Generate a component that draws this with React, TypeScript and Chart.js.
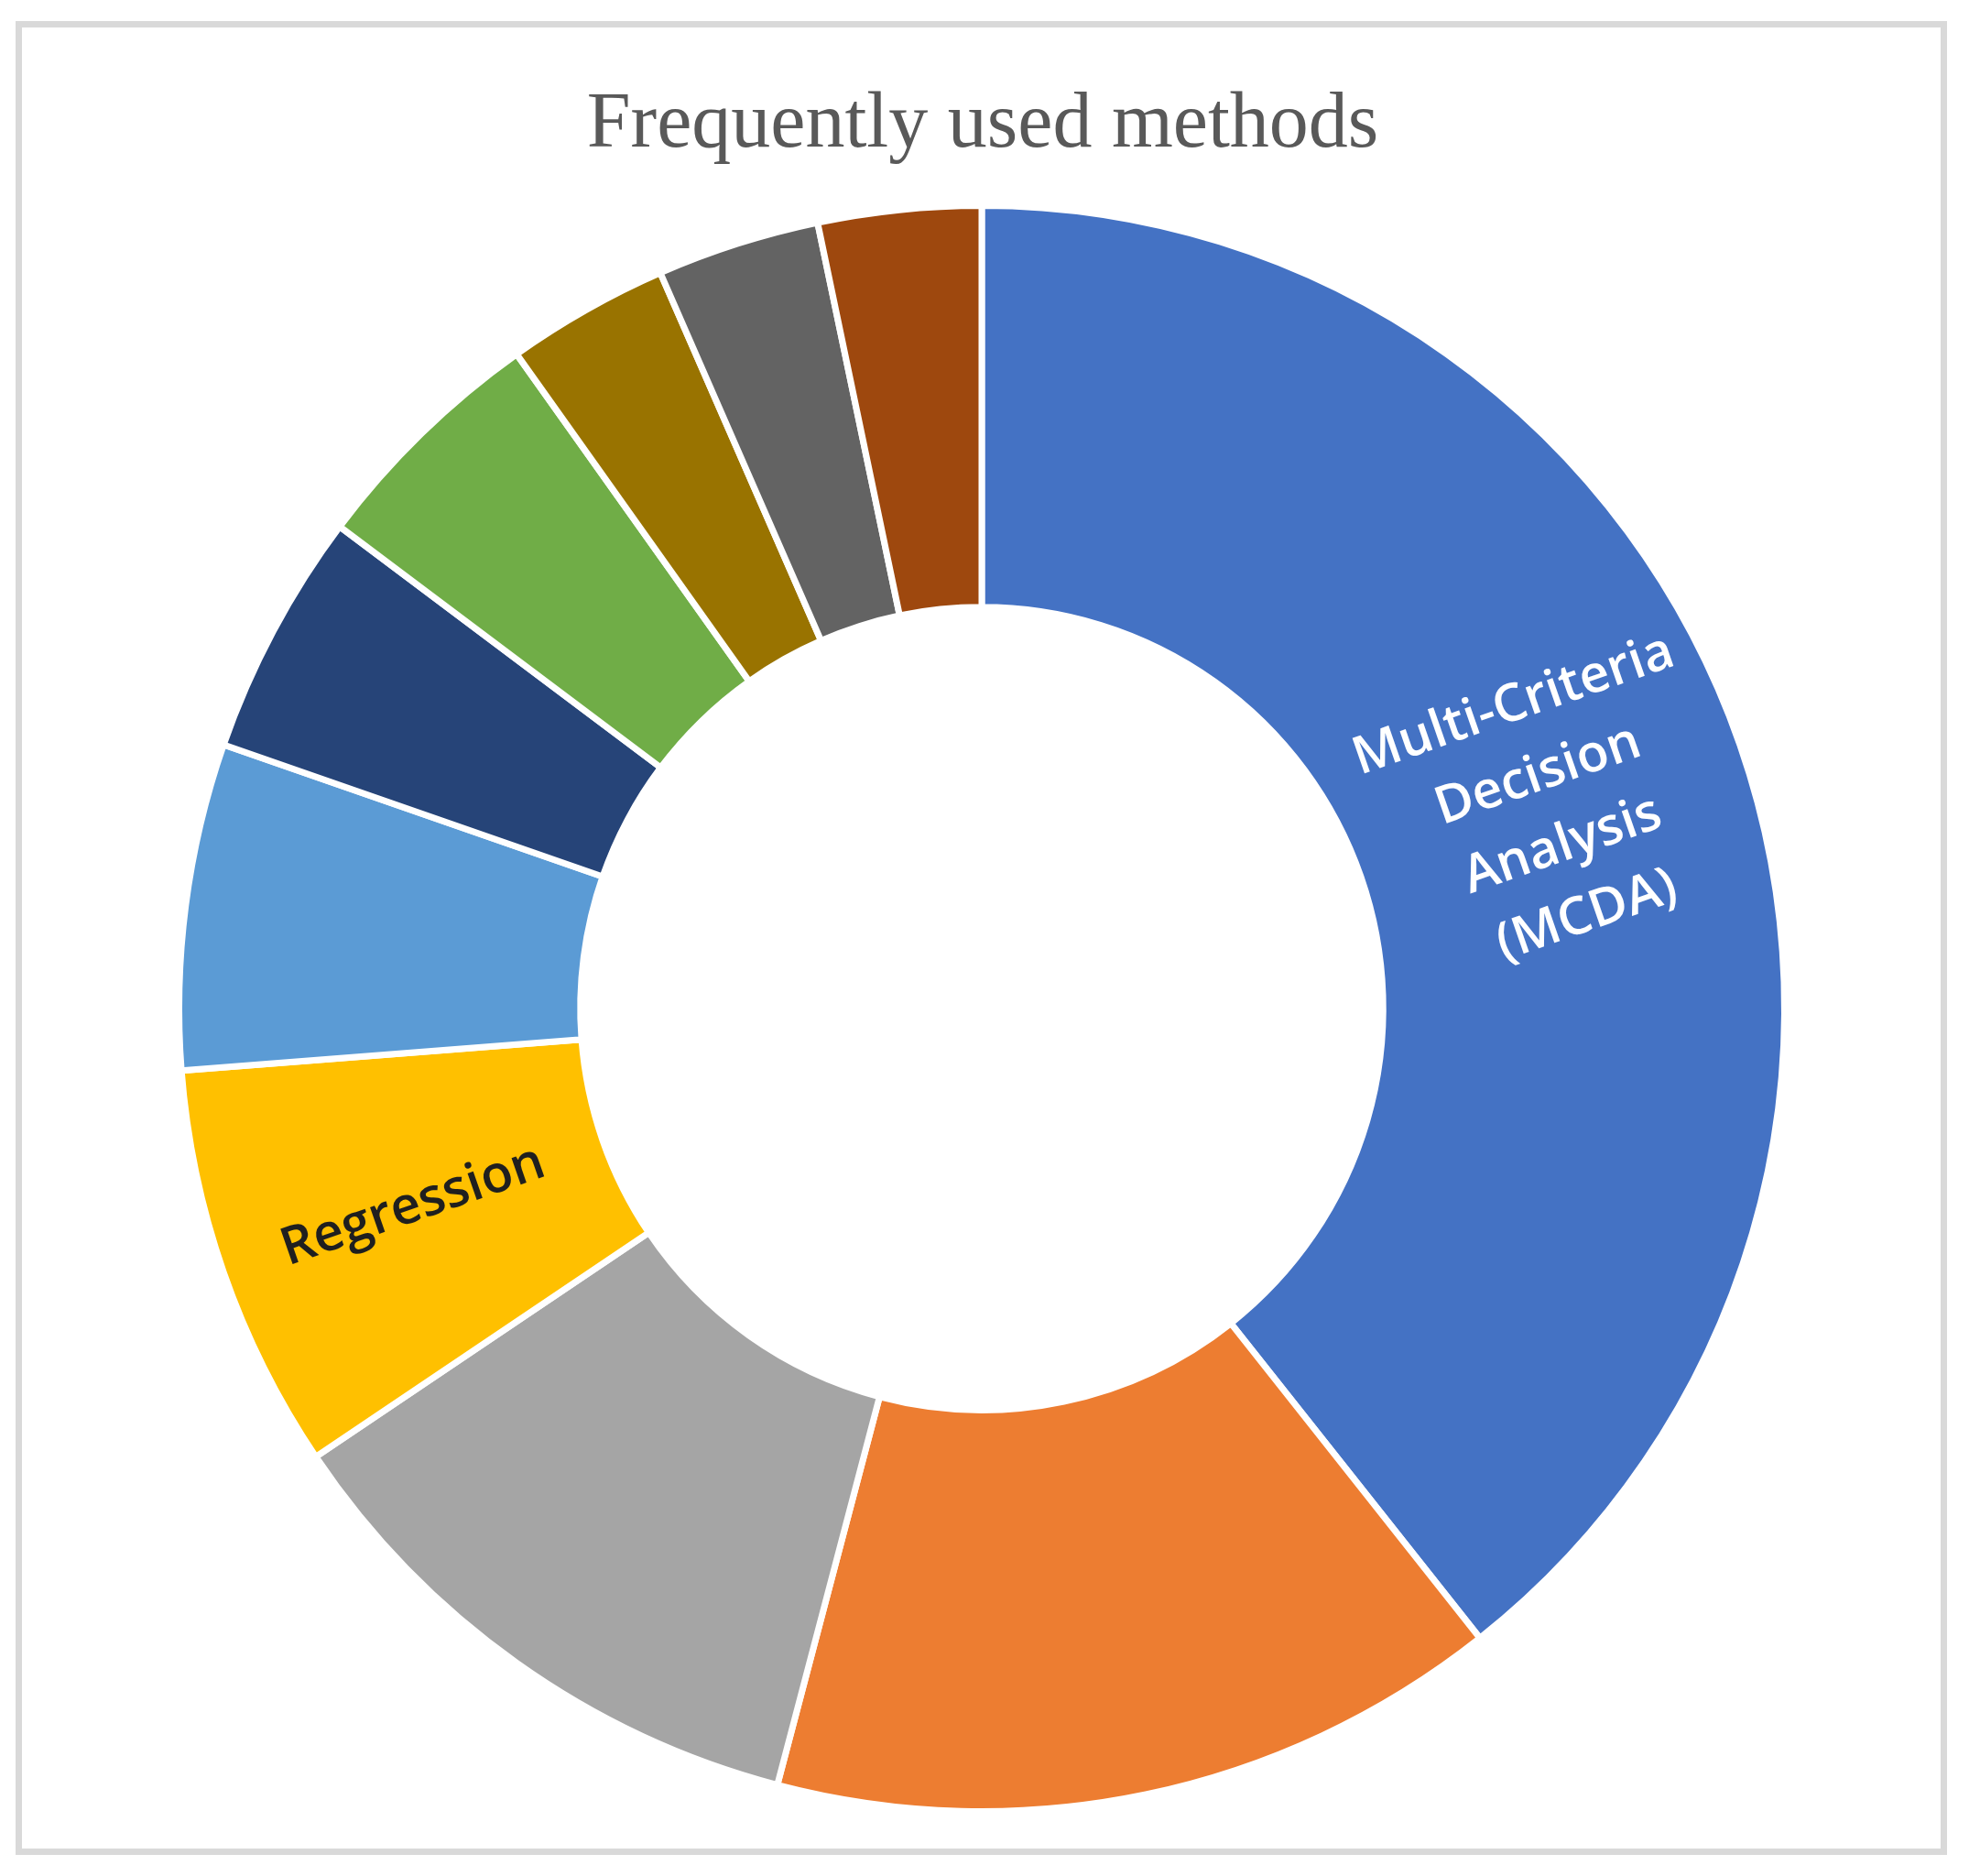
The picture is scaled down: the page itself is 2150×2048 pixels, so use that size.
import React, { useEffect, useRef } from "react";
import { Chart, registerables } from "chart.js";

Chart.register(...registerables);

const titleText = "Frequently used methods";
const categories = [
  "Multi-Criteria Decision Analysis (MCDA)",
  "Method B",
  "Method C",
  "Regression",
  "Method E",
  "Method F",
  "Method G",
  "Method H",
  "Method I",
  "Method J",
];
const values = [24, 9, 7, 5, 4, 3, 3, 2, 2, 2];
const sliceColors = [
  "#4472C4",
  "#ED7D31",
  "#A5A5A5",
  "#FFC000",
  "#5B9BD5",
  "#264478",
  "#70AD47",
  "#997300",
  "#636363",
  "#9E480E",
];
const shownLabels: string[][] = [
  ["Multi-Criteria", "Decision", "Analysis", "(MCDA)"],
  [],
  [],
  ["Regression"],
  [],
  [],
  [],
  [],
  [],
  [],
];
const labelColors = ["#FFFFFF", "", "", "#1F1F1F", "", "", "", "", "", ""];

const W = 2150;
const H = 2048;

const framePlugin = {
  id: "frame",
  beforeDraw(chart: any) {
    const ctx = chart.ctx;
    ctx.save();
    ctx.fillStyle = "#FFFFFF";
    ctx.fillRect(0, 0, W, H);
    ctx.strokeStyle = "#D9D9D9";
    ctx.lineWidth = 7;
    ctx.strokeRect(20.5, 26.5, 2102, 1995);
    ctx.fillStyle = "#595959";
    ctx.font = '86px "Liberation Serif"';
    ctx.textAlign = "center";
    ctx.textBaseline = "alphabetic";
    ctx.fillText(titleText, 1073, 160);
    ctx.restore();
  },
};

const labelPlugin = {
  id: "sliceLabels",
  afterDatasetsDraw(chart: any) {
    const ctx = chart.ctx;
    const meta = chart.getDatasetMeta(0);
    meta.data.forEach((arc: any, i: number) => {
      const lines = shownLabels[i];
      if (!lines || lines.length === 0) return;
      const p = arc.getProps(["x", "y", "startAngle", "endAngle", "innerRadius", "outerRadius"], true);
      const mid = (p.startAngle + p.endAngle) / 2;
      const r = (p.innerRadius + p.outerRadius) / 2;
      const cx = p.x + r * Math.cos(mid);
      const cy = p.y + r * Math.sin(mid);
      let rot = mid;
      if (Math.cos(mid) < 0) rot += Math.PI;
      ctx.save();
      ctx.translate(cx, cy);
      ctx.rotate(rot);
      ctx.fillStyle = labelColors[i];
      ctx.font = '600 57px "Open Sans"';
      ctx.textAlign = "center";
      ctx.textBaseline = "middle";
      const lh = 81;
      const start = -((lines.length - 1) * lh) / 2;
      lines.forEach((t, k) => ctx.fillText(t, 0, start + k * lh));
      ctx.restore();
    });
  },
};

export default function App() {
  const ref = useRef<HTMLCanvasElement | null>(null);
  useEffect(() => {
    if (!ref.current) return;
    const chart = new Chart(ref.current, {
      type: "doughnut",
      data: {
        labels: categories,
        datasets: [
          {
            data: values,
            backgroundColor: sliceColors,
            borderColor: "#FFFFFF",
            borderWidth: 7,
          },
        ],
      },
      options: {
        responsive: false,
        animation: false,
        cutout: "50%",
        layout: { padding: { left: 192, right: 198, top: 221, bottom: 67 } },
        plugins: {
          legend: { display: false },
          title: { display: false },
          tooltip: { enabled: false },
        },
      },
      plugins: [framePlugin, labelPlugin],
    });
    return () => chart.destroy();
  }, []);
  return (
    <div style={{ position: "absolute", left: 0, top: 0, width: W, height: H }}>
      <canvas ref={ref} width={W} height={H} style={{ width: W, height: H, display: "block" }} />
    </div>
  );
}
